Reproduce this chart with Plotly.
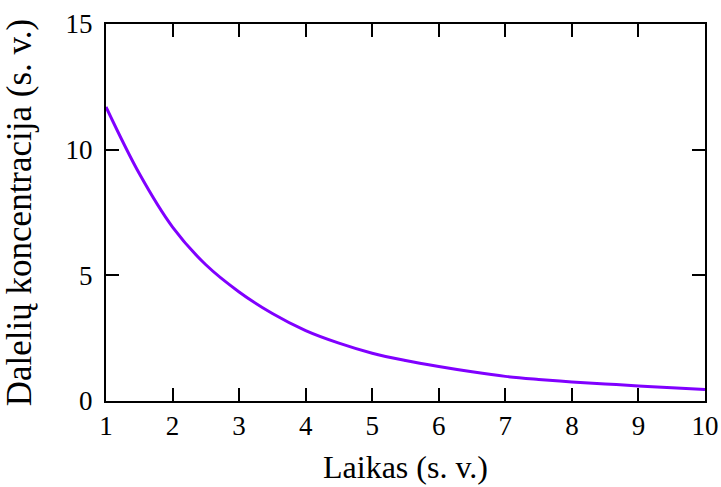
import plotly.graph_objects as go

# Data
laikas = [1, 1.5, 2, 2.5, 3, 3.5, 4, 4.5, 5, 5.5, 6, 6.5, 7, 7.5, 8, 8.5, 9, 9.5, 10]
koncentracija = [11.70, 9.05, 6.92, 5.42, 4.34, 3.48, 2.80, 2.30, 1.90, 1.61, 1.37, 1.16, 0.98, 0.86, 0.76, 0.68, 0.60, 0.53, 0.46]

x_ticks = [1, 2, 3, 4, 5, 6, 7, 8, 9, 10]
y_ticks = [0, 5, 10, 15]

font_family = "Liberation Serif, Times New Roman, serif"

fig = go.Figure()
fig.add_trace(go.Scatter(
    x=laikas, y=koncentracija, mode="lines",
    line=dict(color="#8000ff", width=3, shape="spline", smoothing=1.0),
    showlegend=False,
))

axis_common = dict(
    showline=True, linecolor="black", linewidth=2, mirror="ticks",
    ticks="inside", ticklen=13, tickwidth=2, tickcolor="black",
    showgrid=False, zeroline=False, automargin=False,
    tickfont=dict(family=font_family, size=27, color="black"),
)

fig.update_layout(
    width=721, height=487, autosize=False,
    margin=dict(l=106, r=16, t=24, b=86, pad=0),
    paper_bgcolor="white", plot_bgcolor="white",
    font=dict(family=font_family, color="black"),
    xaxis=dict(
        range=[1, 10], tickmode="array", tickvals=x_ticks,
        title=dict(text="Laikas (s. v.)", font=dict(family=font_family, size=32), standoff=15),
        **axis_common,
    ),
    yaxis=dict(
        range=[0, 15], tickmode="array", tickvals=y_ticks, ticklabelstandoff=6,
        title=dict(text="Dalelių koncentracija (s. v.)", font=dict(family=font_family, size=35), standoff=26),
        **axis_common,
    ),
)

fig.write_html("out.html")
